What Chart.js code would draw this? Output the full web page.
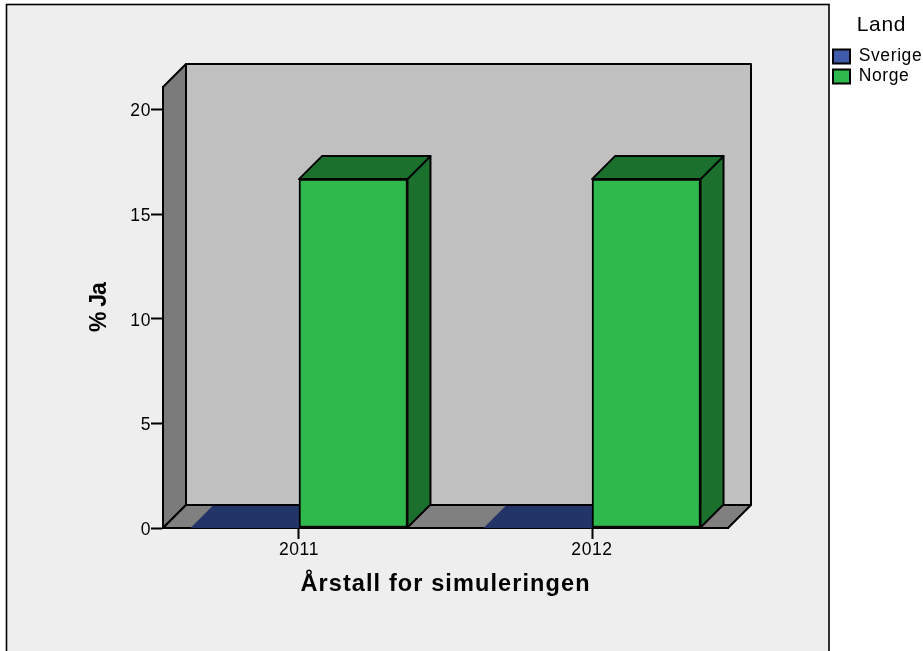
<!DOCTYPE html>
<html><head><meta charset="utf-8">
<style>html,body{margin:0;padding:0;background:#fff}canvas{display:block}</style>
<script src="https://cdn.jsdelivr.net/npm/chart.js@4"></script></head>
<body><canvas id="c" width="923" height="651"></canvas>
<script>
const years = [2011, 2012];
const sverige = [0, 0];
const norge = [16.67, 16.67];
const yTicks = [0, 5, 10, 15, 20];
const seriesNames = ['Sverige', 'Norge'];
const xTitle = 'Årstall for simuleringen';
const yTitle = '% Ja';
const legendTitle = 'Land';

const FONT = '"Liberation Sans", Arial, sans-serif';
const DEPTH = 23, SPACING = '0.6px';

function poly(ctx, pts, fill, stroke) {
  ctx.beginPath();
  pts.forEach((p, i) => i ? ctx.lineTo(p[0], p[1]) : ctx.moveTo(p[0], p[1]));
  ctx.closePath();
  ctx.fillStyle = fill; ctx.fill();
  if (stroke) { ctx.lineWidth = 2; ctx.strokeStyle = '#000'; ctx.lineJoin = 'round'; ctx.stroke(); }
}
const scene = {
  id: 'scene',
  beforeUpdate(c) { c.ctx.letterSpacing = SPACING; },
  afterLayout(c) {
    const l = c.legend;
    const w = l.width;
    l.left = 830.5; l.right = 830.5 + w; l.top = 5; l.bottom = 5 + l.height;
    ['x', 'y'].forEach(id => {
      const s = c.scales[id];
      if (s._patched) return;
      const orig = s.drawTitle;
      const sp = id === 'x' ? '1.1px' : '-0.9px';
      s.drawTitle = function () { c.ctx.letterSpacing = sp; orig.call(this); c.ctx.letterSpacing = SPACING; };
      s._patched = true;
    });
  },
  beforeDraw(c) {
    const ctx = c.ctx, a = c.chartArea;
    ctx.letterSpacing = SPACING;
    ctx.save();
    ctx.fillStyle = '#fff'; ctx.fillRect(0, 0, c.width, c.height);
    ctx.fillStyle = '#EEEEEE'; ctx.fillRect(6, 4, 823, 660);
    ctx.strokeStyle = '#000'; ctx.lineWidth = 1.6; ctx.strokeRect(6.5, 4.5, 822.5, 660);
    const L = a.left, R = a.right, T = a.top, B = a.bottom, d = DEPTH;
    poly(ctx, [[L + d, T - d], [R + d, T - d], [R + d, B - d], [L + d, B - d]], '#C0C0C0', true);
    poly(ctx, [[L, T], [L + d, T - d], [L + d, B - d], [L, B]], '#7A7A7A', true);
    poly(ctx, [[L, B], [L + d, B - d], [R + d, B - d], [R, B]], '#808080', true);
    ctx.restore();
  },
  beforeDatasetsDraw(c) {
    const ctx = c.ctx, d = DEPTH;
    const tops = ['#233568', '#1C702E'];
    ctx.save();
    c.data.datasets.forEach((ds, i) => {
      c.getDatasetMeta(i).data.forEach(el => {
        const p = el.getProps(['x', 'y', 'base', 'width'], true);
        const x0 = p.x - p.width / 2, x1 = p.x + p.width / 2;
        if (p.base - p.y > 1) {
          poly(ctx, [[x1, p.y], [x1 + d, p.y - d], [x1 + d, p.base - d], [x1, p.base]], tops[i], true);
          poly(ctx, [[x0, p.y], [x0 + d, p.y - d], [x1 + d, p.y - d], [x1, p.y]], tops[i], true);
        } else {
          poly(ctx, [[x0, p.base], [x0 + d, p.base - d], [x1 + d, p.base - d], [x1, p.base]], tops[i], false);
          ctx.strokeStyle = '#000'; ctx.lineWidth = 2;
          ctx.beginPath(); ctx.moveTo(x0 + d, p.base - d); ctx.lineTo(x1 + d, p.base - d); ctx.stroke();
        }
      });
    });
    ctx.restore();
  }
};

new Chart(document.getElementById('c'), {
  type: 'bar',
  data: {
    datasets: [
      { label: seriesNames[0], data: years.map((y, i) => ({ x: y, y: sverige[i] })), backgroundColor: '#3E5AA9' },
      { label: seriesNames[1], data: years.map((y, i) => ({ x: y, y: norge[i] })), backgroundColor: '#2FB84B' }
    ].map(d => Object.assign(d, { borderColor: '#000', borderWidth: 2, borderSkipped: false, barThickness: 108.5 }))
  },
  options: {
    responsive: false,
    animation: false,
    devicePixelRatio: 1,
    layout: { padding: { top: 87, right: 195, left: 0, bottom: 0 } },
    plugins: {
      tooltip: { enabled: false },
      legend: {
        position: 'chartArea', align: 'start',
        title: { display: true, text: legendTitle, color: '#000', font: { family: FONT, size: 21 }, padding: { top: 10, bottom: 5 } },
        labels: { color: '#000', font: { family: FONT, size: 17.5 }, boxWidth: 17, boxHeight: 14, padding: 2.5, textAlign: 'left' }
      }
    },
    scales: {
      x: {
        type: 'linear', offset: false,
        min: 2010.536, max: 2012.464,
        afterFit(s) { s.height = 123; },
        afterBuildTicks(s) { s.ticks = years.map(v => ({ value: v })); },
        grid: { offset: false, drawOnChartArea: false, drawTicks: true, tickLength: 11, tickColor: '#000', tickWidth: 2 },
        border: { display: true, color: '#000', width: 2 },
        ticks: { stepSize: 1, padding: 1, maxRotation: 0, autoSkip: false, color: '#000', font: { family: FONT, size: 17.5 }, callback: v => String(v) },
        title: { display: true, text: xTitle, color: '#000', font: { family: FONT, size: 23.5, weight: 'bold' }, padding: { top: 0, bottom: 52 } }
      },
      y: {
        type: 'linear', min: 0, max: 21.07,
        afterFit(s) { s.width = 163; },
        afterBuildTicks(s) { s.ticks = yTicks.map(v => ({ value: v })); },
        grid: { drawOnChartArea: false, drawTicks: true, tickLength: 12, tickColor: '#000', tickWidth: 2 },
        border: { display: true, color: '#000', width: 2 },
        ticks: { stepSize: 5, padding: 0, labelOffset: 2, color: '#000', font: { family: FONT, size: 17.5 } },
        title: { display: true, text: yTitle, color: '#000', font: { family: FONT, size: 23, weight: 'bold' }, padding: { top: 86, bottom: 0 } }
      }
    }
  },
  plugins: [scene]
});
</script></body></html>
